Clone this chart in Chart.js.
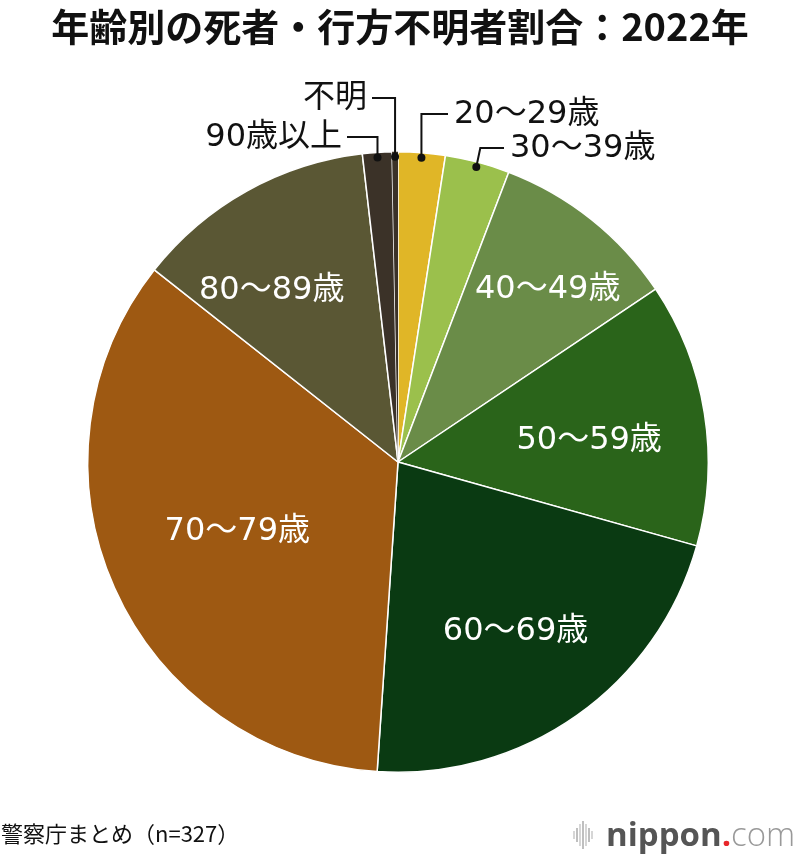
<!DOCTYPE html>
<html lang="ja">
<head>
<meta charset="utf-8">
<script src="https://cdn.jsdelivr.net/npm/chart.js@4/dist/chart.umd.min.js"></script>
<style>
	html, body { margin: 0; padding: 0; background: #fff; }
	#wrap { position: relative; width: 800px; height: 860px; }
</style>
</head>
<body>
<div id="wrap"><canvas id="chart"></canvas></div>
<script>
// data (n=327)
const labels = ['20〜29歳', '30〜39歳', '40〜49歳', '50〜59歳', '60〜69歳', '70〜79歳', '80〜89歳', '90歳以上', '不明'];
const counts = [8, 11, 32, 45, 71, 113, 41, 5, 1];
const colors = ['#e0b627', '#9bc04c', '#6a8c48', '#2a641a', '#0a3a12', '#9e5912', '#5a5734', '#3b3228', '#3b3228'];
const title = '年齢別の死者・行方不明者割合：2022年';
const source = '警察庁まとめ（n=327）';

const numFont = '"DejaVu Sans", "Noto Sans CJK JP", sans-serif';

// inside labels: [index, radius fraction, angle shift in degrees]
const inside = [[2, 0.735, 2.5], [3, 0.62, 2.6], [4, 0.665, 0.5], [5, 0.565, 0.4], [6, 0.685, -7.3]];
// outside labels with leader lines
const outside = [
	{i: 0, y: 114, endX: 448, dx: 0, align: 'left'},
	{i: 1, y: 148, endX: 504, dx: 4, align: 'left'},
	{i: 7, y: 137, endX: 347, dx: 0, align: 'right'},
	{i: 8, y: 98, endX: 372, dx: 0, align: 'right'}
];

const labelPlugin = {
	id: 'labels',
	afterDraw(chart) {
		const c = chart.ctx;
		const arcs = chart.getDatasetMeta(0).data;
		c.save();

		// title
		c.fillStyle = '#111';
		c.font = 'bold 38px "Noto Sans CJK JP", sans-serif';
		c.textAlign = 'center';
		c.textBaseline = 'middle';
		c.fillText(title, 400, 27);

		// white labels inside the slices
		c.font = '32px ' + numFont;
		c.fillStyle = '#fff';
		inside.forEach(([i, rf, da]) => {
			const a = arcs[i].getProps(['x', 'y', 'startAngle', 'endAngle', 'outerRadius'], true);
			const mid = (a.startAngle + a.endAngle) / 2 + da * Math.PI / 180;
			c.fillText(labels[i], a.x + Math.cos(mid) * a.outerRadius * rf, a.y + Math.sin(mid) * a.outerRadius * rf);
		});

		// leader lines and black labels
		c.strokeStyle = '#111';
		c.lineWidth = 2;
		outside.forEach(o => {
			const a = arcs[o.i].getProps(['x', 'y', 'startAngle', 'endAngle', 'outerRadius'], true);
			const mid = (a.startAngle + a.endAngle) / 2;
			const r = a.outerRadius - 5;
			const px = a.x + Math.cos(mid) * r;
			const py = a.y + Math.sin(mid) * r;
			c.beginPath();
			c.moveTo(px, py);
			c.lineTo(px + o.dx, o.y);
			c.lineTo(o.endX, o.y);
			c.stroke();
			c.beginPath();
			c.arc(px, py, 4, 0, Math.PI * 2);
			c.fillStyle = '#111';
			c.fill();
			c.textAlign = o.align;
			c.fillText(labels[o.i], o.align === 'left' ? o.endX + 6 : o.endX - 5, o.y + 1);
		});

		// source
		c.textAlign = 'left';
		c.font = '22px "Noto Sans CJK JP", sans-serif';
		c.fillStyle = '#111';
		c.fillText(source, 1, 834);

		// nippon.com logo
		const barH = [8, 14, 22, 28, 22, 14, 8];
		c.lineWidth = 1.5;
		barH.forEach((h, k) => {
			c.strokeStyle = k % 2 ? '#aaa' : '#c8c8c8';
			c.beginPath();
			c.moveTo(574 + k * 3, 835 - h / 2);
			c.lineTo(574 + k * 3, 835 + h / 2);
			c.stroke();
		});
		c.textBaseline = 'alphabetic';
		c.font = 'bold 33px "Open Sans", sans-serif';
		c.fillStyle = '#555';
		c.fillText('nippon', 606, 846);
		let x = 606 + c.measureText('nippon').width;
		c.fillStyle = '#e8262b';
		c.fillText('.', x, 846);
		x += c.measureText('.').width;
		c.font = '300 33px "Open Sans", sans-serif';
		c.fillStyle = '#999';
		c.fillText('com', x, 846);
		c.restore();
	}
};

new Chart(document.getElementById('chart'), {
	type: 'pie',
	data: {
		labels: labels,
		datasets: [{
			data: counts,
			backgroundColor: colors,
			borderColor: '#fff',
			borderWidth: [1.5, 1.5, 1.5, 1.5, 1.5, 1.5, 1.5, 1.5, 0]
		}]
	},
	options: {
		responsive: true,
		maintainAspectRatio: false,
		animation: false,
		layout: {padding: {left: 87, right: 91, top: 151, bottom: 87}},
		plugins: {
			legend: {display: false},
			tooltip: {enabled: false},
			title: {display: false}
		}
	},
	plugins: [labelPlugin]
});
</script>
</body>
</html>
